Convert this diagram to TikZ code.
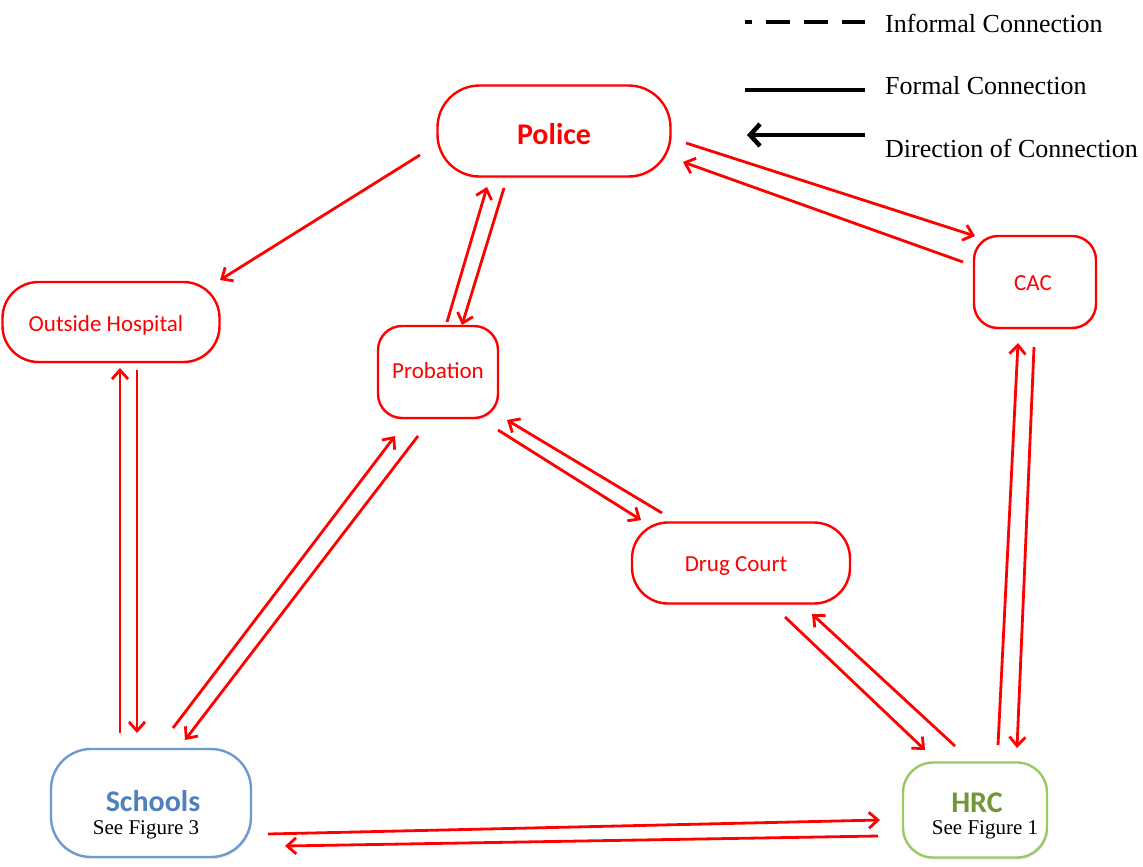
\documentclass[tikz,border=0pt]{standalone}
\usepackage{fontspec}
\setmainfont{Liberation Serif}
\newfontfamily\calib{Carlito}
\usetikzlibrary{arrows.meta,calc,shadows}
\definecolor{myred}{RGB}{255,0,0}
\definecolor{schoolborder}{RGB}{108,155,210}
\definecolor{schooltext}{RGB}{79,129,189}
\definecolor{hrcborder}{RGB}{155,200,100}
\definecolor{hrctext}{RGB}{112,150,56}
\tikzset{
  box/.style={draw=myred, line width=2.4pt, rectangle, inner sep=0pt, fill=white,
    drop shadow={shadow xshift=1pt, shadow yshift=-2pt, opacity=0.18}},
  lbl/.style={text=myred, font=\calib\fontsize{23}{27}\selectfont},
  conn/.style={draw=myred, line width=2.8pt, -{Straight Barb[length=9pt,width=16pt,line width=2.8pt]}},
  legtext/.style={anchor=west, inner sep=0pt, font=\fontsize{26}{30}\selectfont},
  legline/.style={draw=black, line width=4.5pt}
}
\begin{document}
\begin{tikzpicture}[x=1pt,y=-1pt]
\useasboundingbox (0,0) rectangle (1143,867);
% nodes
\node[box, rounded corners=42pt, minimum width=233pt, minimum height=91pt] (police) at (554,131) {};
\node[lbl, font=\calib\bfseries\fontsize{30}{34}\selectfont] (policet) at (554,134) {Police};
\node[box, rounded corners=36pt, minimum width=217pt, minimum height=80pt] (hosp) at (111,322) {};
\node[lbl] (hospt) at (106,325) {Outside Hospital};
\node[box, rounded corners=24pt, minimum width=120pt, minimum height=92pt] (prob) at (438,372) {};
\node[lbl] (probt) at (438,371) {Probation};
\node[box, rounded corners=24pt, minimum width=122pt, minimum height=92pt] (cac) at (1035,282) {};
\node[lbl] (cact) at (1033,283) {CAC};
\node[box, rounded corners=36pt, minimum width=218pt, minimum height=81pt] (drug) at (741,563) {};
\node[lbl] (drugt) at (736,566) {Drug Court};
\node[box, draw=schoolborder, rounded corners=40pt, minimum width=200pt, minimum height=108pt] (schools) at (151,803) {};
\node[text=schooltext, font=\calib\bfseries\fontsize{30}{34}\selectfont] (schoolst) at (153,801) {Schools};
\node[font=\fontsize{21}{24}\selectfont, inner sep=0pt] (schoolsf) at (146,830) {See Figure 3};
\node[box, draw=hrcborder, rounded corners=30pt, minimum width=144pt, minimum height=95pt] (hrc) at (975,810) {};
\node[text=hrctext, font=\calib\bfseries\fontsize{30}{34}\selectfont] (hrct) at (977,803) {HRC};
\node[font=\fontsize{21}{24}\selectfont, fill=white, inner xsep=1pt, inner ysep=2pt] (hrcf) at (985,830) {See Figure 1};
% connectors
\draw[conn] ($(police)+(-134,24)$) -- ($(hosp)+(109,-42)$);
\draw[conn] ($(prob)+(9,-50)$) -- ($(police)+(-67,56)$);
\draw[conn] ($(police)+(-50,57)$) -- ($(prob)+(24,-47)$);
\draw[conn] ($(police)+(132,12)$) -- ($(cac)+(-60,-46)$);
\draw[conn] ($(cac)+(-72,-20)$) -- ($(police)+(129,31)$);
\draw[conn] ($(schools)+(-31,-70)$) -- ($(hosp)+(9,46)$);
\draw[conn] ($(hosp)+(26,48)$) -- ($(schools)+(-14,-70)$);
\draw[conn] ($(schools)+(22,-75)$) -- ($(prob)+(-43,64)$);
\draw[conn] ($(prob)+(-20,64)$) -- ($(schools)+(34,-63)$);
\draw[conn] ($(prob)+(60,58)$) -- ($(drug)+(-100,-43)$);
\draw[conn] ($(drug)+(-79,-50)$) -- ($(prob)+(69,48)$);
\draw[conn] ($(drug)+(44,54)$) -- ($(hrc)+(-50,-60)$);
\draw[conn] ($(hrc)+(-20,-64)$) -- ($(drug)+(71,51)$);
\draw[conn] ($(hrc)+(23,-65)$) -- ($(cac)+(-17,61)$);
\draw[conn] ($(cac)+(-1,65)$) -- ($(hrc)+(42,-62)$);
\draw[conn] ($(schools)+(117,31)$) -- ($(hrc)+(-95,10)$);
\draw[conn] ($(hrc)+(-97,26)$) -- ($(schools)+(134,43)$);
% legend
\node[legtext] (leg1) at (885,23) {Informal Connection};
\node[legtext] (leg2) at (885,86) {Formal Connection};
\node[legtext] (leg3) at (885,148) {Direction of Connection};
\coordinate (l1a) at (745,22);
\coordinate (l1b) at (865,22);
\coordinate (l2a) at (745,90);
\coordinate (l2b) at (865,90);
\coordinate (l3a) at (865,135);
\coordinate (l3b) at (747,135);
\draw[legline, dash pattern=on 24pt off 14pt, dash phase=17pt] (l1a) -- (l1b);
\draw[legline] (l2a) -- (l2b);
\draw[legline, -{Straight Barb[length=10pt,width=22pt,line width=4.5pt]}] (l3a) -- (l3b);
\end{tikzpicture}
\end{document}
